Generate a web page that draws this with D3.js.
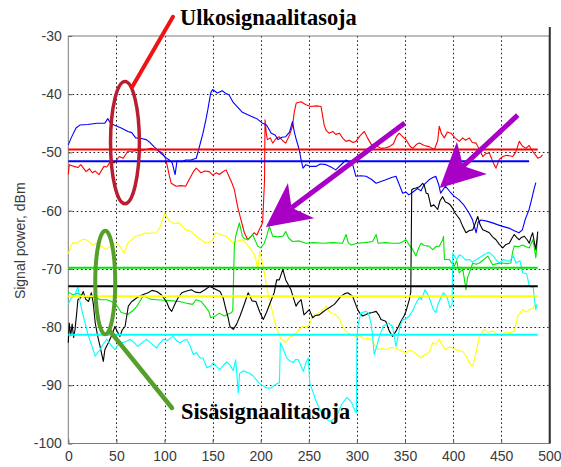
<!DOCTYPE html>
<html>
<head>
<meta charset="utf-8">
<script src="https://cdn.jsdelivr.net/npm/d3@7"></script>
<style>
  html, body { margin: 0; padding: 0; background: #fff; }
  svg { display: block; }
</style>
</head>
<body>
<svg id="chart" width="561" height="467"></svg>
<script>
// Sample index (x) and measured level in dBm for each trace
const blueTrace = [[0,-48.7],[3,-47.5],[8,-45.8],[12,-45.3],[20,-45.2],[30,-45],[38,-45],[41,-44.2],[44,-45],[47.5,-45.3],[55,-45.8],[62,-46.4],[66,-46.6],[70,-47.5],[76,-47.6],[81,-47.8],[85,-48.3],[89,-49],[93,-49.6],[96,-50.1],[101.5,-50.9],[105,-51.3],[108,-51.8],[111,-53.8],[113,-51.5],[118,-51.6],[122,-51.3],[127.5,-51.3],[133,-51],[136,-49.2],[140,-46.7],[143,-44.4],[145,-42.7],[148,-39.8],[150,-39.2],[155,-39.8],[160,-39.4],[164,-39.9],[167,-40.1],[171,-41.3],[176,-42.2],[181,-43.1],[186,-43.5],[190,-43.8],[196,-44.2],[202,-45],[206,-45.3],[211,-46.7],[215,-47],[218,-47.8],[222,-47.4],[226,-47.3],[230,-46.5],[233,-44.7],[235,-46.5],[237,-47.8],[240,-49.5],[242,-51.3],[244,-52.7],[247,-52.1],[252,-52.4],[257.5,-52.4],[262,-52],[268,-52.1],[273,-52.5],[278,-53],[283,-52.2],[288.7,-51.3],[292,-51.7],[295.6,-52.1],[299,-54.1],[304,-54],[309.5,-54.1],[315,-54.6],[320,-55.3],[325,-55],[330,-54.7],[336,-54.3],[340.6,-54.1],[344,-55.5],[347.6,-57],[351,-56.8],[354,-57.3],[359,-56.7],[363,-56.2],[366.6,-56.6],[370,-55.5],[375,-54.7],[378,-54.4],[382,-54.1],[385,-55.5],[387,-57],[392,-55.8],[397,-56.8],[401,-57.5],[406,-58.1],[411,-59],[416.5,-60.4],[420,-61.5],[424,-63.8],[426,-62],[429,-61.6],[435,-61.8],[441,-62.1],[446,-62.4],[451.6,-62.7],[458,-63],[463,-63.4],[468.5,-63.8],[472,-63.3],[475,-61.5],[479,-59.8],[482,-57.8],[484,-56.4],[486,-55.2]];

const redTrace = [[0,-53.8],[1,-52.1],[6,-52.4],[10,-52.6],[13,-52.1],[18.5,-53.3],[22,-52.8],[25,-53.5],[28,-53.2],[32,-53.8],[37,-52.4],[40,-52.5],[44,-51.5],[48,-51.8],[53,-50.7],[57,-51],[62,-49.8],[67,-49.8],[72,-49.6],[76,-49.7],[81,-49.5],[86,-49.3],[91,-49.5],[98,-50.1],[101,-51],[103,-52.4],[105,-54],[107,-55.3],[112,-55.8],[117,-55.7],[122,-55.8],[125.5,-54.7],[127.5,-54.1],[130,-53.3],[133,-52.7],[138,-53.5],[142,-53.2],[146.6,-53.3],[150,-53.9],[154,-53.5],[157,-53.8],[160,-53.4],[164,-53],[167,-54.1],[170,-55.2],[172.6,-56.4],[176,-59.3],[179.5,-61.6],[183,-63.8],[186.5,-65],[190,-64.4],[193,-63.8],[196,-64.2],[198.5,-63.3],[202,-62.1],[204,-54.7],[204.5,-44.4],[206,-47],[207,-47.8],[210,-47.5],[212.5,-48.4],[216,-47.6],[219,-47.3],[223,-48],[226,-48.4],[230,-47],[233,-45.5],[235,-43],[237,-41.5],[242,-41.3],[247,-41.8],[252,-42.1],[258,-42],[262.7,-42.1],[266,-45.3],[268,-46.2],[271,-46.7],[275,-46.4],[278,-46.9],[282,-46.7],[285,-47.5],[288.7,-48.1],[292,-47.9],[296,-48.3],[299,-48.1],[303,-47.2],[307.7,-46.4],[311,-47.5],[316.4,-49],[320,-48.8],[325,-49.3],[330,-49.2],[333.7,-49],[338,-48.5],[341,-47.3],[344,-46.7],[347,-47.2],[351,-47.8],[355,-48.9],[358,-49.3],[362,-48.6],[365,-48.4],[370,-48.8],[375,-49],[380.5,-49.5],[384,-48],[385.6,-45.5],[388,-46.8],[390.9,-47.5],[394,-46.5],[397.8,-46.7],[402,-47.5],[406.4,-48.1],[410,-47.5],[413,-47.9],[416.8,-47.5],[420,-48.3],[423.8,-48.4],[427,-49.4],[430.8,-50.7],[434,-50.2],[437.7,-50.1],[441,-51.5],[444.6,-52.7],[448,-51.2],[451.6,-50.7],[456,-50.5],[462,-50.7],[465,-50],[468.8,-48.1],[472,-48.9],[475.8,-49.3],[479,-48.8],[482.7,-49.8],[486,-50.5],[488,-51],[491,-50.8],[493,-50.4]];

const yellowTrace = [[0,-67.4],[3,-66],[5,-65.5],[8,-65.6],[12,-65.2],[15.6,-64.9],[18.4,-65],[22,-65.4],[25,-65.9],[29,-65.6],[32,-65.9],[36,-66.3],[39,-66.7],[43,-66.2],[46,-65.8],[49.6,-65.6],[53,-66],[55,-66.5],[58,-67.3],[61.7,-65.6],[66,-65],[70,-64.4],[75,-64.2],[80.8,-63.8],[85,-63.9],[91,-63.8],[95,-63],[98,-61.5],[100,-60.4],[103,-61.2],[105,-61.8],[110,-62.2],[115,-62.1],[118,-62.6],[122,-63.3],[127.5,-63.6],[133,-64.4],[138,-65],[143,-65.6],[147,-65.4],[150,-65],[153.5,-63.8],[158,-64.1],[164,-64.4],[168,-65],[171,-65.6],[176,-65.2],[181,-65],[186,-65.8],[190,-66.7],[193,-67.5],[195,-68.4],[197,-70.1],[199,-67],[202,-69],[205.5,-72.4],[208,-74.5],[210.7,-76.4],[213,-78],[216,-79.9],[219,-81.3],[221,-82.1],[224,-82.3],[226,-82.7],[229.7,-81.8],[233,-81.5],[236.7,-81],[240,-80.4],[243.6,-79.9],[247,-80],[250.5,-79.6],[254,-78.1],[258,-77.8],[262.7,-77.3],[266,-76.8],[268,-76.4],[271,-77.2],[273,-77.6],[278,-77.9],[282,-78.6],[285,-79.9],[288,-80.6],[290.4,-81],[295,-81.3],[299,-81.6],[303,-81.4],[307.7,-82.1],[311,-81.9],[314.6,-82.1],[318,-83],[321.6,-83.9],[326,-83.7],[330,-83.9],[335,-83.5],[340.6,-83.6],[346,-84.1],[351,-84.4],[355,-84],[358,-84.2],[362,-84.7],[366.6,-85.3],[370,-84.8],[375,-84.4],[378.8,-82.7],[382,-83],[385.6,-82.1],[389,-83.2],[392.6,-83.9],[396,-83.4],[399.6,-83.6],[405,-84],[410,-84.2],[413,-84.8],[416.8,-86.1],[420.4,-86.7],[423.8,-84.4],[427.3,-81.6],[432.4,-80.4],[436,-80.9],[441,-80.7],[446,-81.2],[451.6,-81.3],[455,-80.8],[458.4,-81],[463.6,-80.7],[467.2,-78.1],[472.4,-77],[476,-77.4],[479.2,-77],[483,-76.8],[486,-75.9]];

const greenTrace = [[0,-74],[5,-74.5],[10,-74.2],[16,-74.8],[22,-75],[28,-74.8],[33,-75.3],[40,-75.3],[45,-75.6],[50,-76.2],[55,-77.5],[62,-77.8],[67,-77.2],[71,-76.5],[78,-74.6],[85,-75.2],[92,-75.3],[100,-75.4],[108,-75.5],[116,-75.6],[123,-75.9],[129,-76.1],[133,-75.3],[138,-75.6],[143,-76.6],[146,-77.3],[148,-78.4],[152,-78.2],[157,-77.6],[162,-78.1],[166,-77.8],[169,-77.6],[171,-77.2],[172.6,-66.1],[174,-64.4],[177.8,-62.1],[181,-64.4],[183,-64.8],[186.5,-65],[189,-64.6],[191.7,-64.1],[194,-65],[197,-66.1],[200,-66.4],[203.7,-65.6],[206,-64.5],[209,-62.7],[212.5,-64.4],[218,-64.5],[223,-64.4],[226,-63.6],[229,-64.7],[233,-65.3],[240,-65.2],[247,-65.6],[255,-65.5],[265,-65.6],[275,-65.5],[285,-65.6],[288.7,-64.1],[291,-65.5],[294,-65.9],[300,-65.6],[308,-65.5],[316.4,-65.3],[320,-64.1],[322,-65.6],[330,-65.5],[337,-65.6],[344,-65.6],[348,-65.3],[351,-65],[354,-65.8],[358,-66.7],[361.4,-67.8],[364,-66.5],[366.6,-65.6],[370,-66],[375,-66.1],[378.8,-66.7],[382,-66.2],[385.6,-66.1],[389.2,-65],[390,-64.4],[391,-68.4],[396,-68.4],[401,-69.6],[403.7,-68.6],[406.4,-70.7],[410,-70.1],[411.5,-71.5],[413.4,-73.6],[415,-71.5],[416.8,-70.7],[420.4,-69],[424,-69.2],[427.3,-69],[432,-68.4],[436,-67.8],[441,-69.3],[446,-69.1],[451.6,-69],[456,-69.1],[460,-69],[462,-67],[463.6,-66.1],[468,-66.2],[472.4,-65.9],[476,-66.2],[479.2,-66.4],[482.7,-65],[484,-66],[486,-68.1],[488,-64.4]];

const blackTrace = [[0,-82.7],[1,-79.3],[2.5,-81.5],[4,-79.5],[5.5,-81.8],[7,-80.4],[8.5,-78],[10,-75.3],[12.5,-75],[15.6,-73.9],[18,-75.2],[21,-75.6],[24,-74.1],[26,-76],[28,-79.3],[30.5,-81.5],[33,-83.3],[36.4,-85.9],[38,-83.9],[41.6,-82.7],[45,-81.5],[48.5,-79.9],[51,-80.8],[53.7,-81.6],[56,-80.5],[59,-79.9],[62.4,-76.4],[66,-75.6],[71,-75],[75,-74.6],[78,-74.4],[83,-74.1],[87,-73.7],[92,-73.9],[97,-74.5],[102,-75.6],[105,-76.8],[107.5,-77.3],[111,-76],[114,-75],[118,-74.1],[123,-73.8],[128,-73.6],[132,-74],[137,-74.1],[142,-73.6],[147,-73],[152,-73.4],[157.7,-73.9],[161,-75],[163,-76.4],[166,-78.3],[168,-79.9],[171.5,-80.4],[175,-79.5],[178.5,-78.1],[182,-76.5],[187,-74.1],[191,-75.5],[195,-75.6],[199,-77.4],[202.7,-78.7],[206,-77.5],[209.7,-75.9],[214,-74.1],[216.6,-71.9],[219.3,-71.9],[223,-70.1],[226,-71.9],[228,-72.5],[231.5,-73.6],[234,-75],[236.7,-76.4],[239,-75.8],[242,-75.3],[245,-77.9],[250.5,-77],[254,-78.4],[257,-78],[261,-77.9],[264,-77.5],[268,-77],[272,-76.6],[276.5,-76.1],[280,-75.4],[283.5,-74.7],[287,-74.3],[290.4,-74.1],[293,-74.4],[295.6,-74.7],[298,-75.8],[300.8,-77],[303,-77.6],[306,-78.1],[309,-77.9],[313,-77.6],[316,-77.5],[320,-77.3],[323,-78],[325,-78.7],[330,-79],[333.7,-80.7],[337,-81.6],[340.6,-80.7],[343,-80],[345.8,-79],[349,-78.1],[351,-77.3],[354.5,-75.3],[356,-74],[357,-56.4],[359,-56.2],[361.4,-56.1],[365,-55.9],[368.4,-55.3],[370,-55.6],[372,-57],[374,-57.1],[377,-59.3],[380,-59],[384,-59.8],[386.4,-58.3],[389.2,-57.6],[392,-58.5],[394.4,-58.7],[397,-59],[399.6,-59.6],[402,-60.4],[404.8,-61],[407,-61.5],[410,-62.7],[413.4,-63.8],[417,-63.4],[420.4,-63.3],[423,-62.2],[425.6,-61],[428,-62.4],[430.8,-63.3],[434,-63.5],[437.7,-63.8],[441,-64.5],[444.6,-65],[448,-65.8],[451.6,-66.4],[455,-65.8],[458.4,-65.6],[461,-64.8],[463.6,-64.1],[466,-64.6],[468.8,-65],[471,-64.6],[474,-64.4],[477,-65],[479.2,-65.6],[481,-64.5],[482.7,-63.8],[484.5,-65.5],[486,-66.7],[488,-63.6]];

const cyanTrace = [[0,-76.1],[2,-75.3],[5,-74.7],[8,-74],[10,-73],[12,-75.5],[14,-77],[17,-79],[21,-81.6],[24,-83],[28,-85],[30,-84.5],[33,-83.9],[36,-83],[40,-82.1],[44,-83],[48.5,-83.9],[52,-83],[55.5,-82.7],[60,-82.5],[64,-82.1],[68,-82.6],[72,-83.3],[74.5,-83],[78,-82.5],[81.5,-82.1],[86,-82.8],[92,-83.6],[95,-82.8],[98.8,-82.1],[103,-82.3],[106,-81.9],[109,-81.6],[113,-82.4],[116,-82.7],[120,-82.3],[123,-82.1],[126,-83],[130,-84.7],[133,-84.4],[137,-85.3],[140,-85.3],[144,-87],[148,-86.7],[150.7,-86.1],[154,-86.8],[157.7,-87.3],[161,-86.6],[164.7,-86],[168,-86.5],[171.5,-87.5],[174,-85.6],[176.7,-91.3],[178,-88],[182,-87.5],[186,-87.8],[188,-87.9],[192.3,-88.4],[195,-89],[200,-89.9],[202.7,-90.1],[205.5,-90.4],[208,-90.5],[211.4,-90.4],[215,-89.9],[218.3,-89.6],[219.5,-89.6],[220.4,-82.7],[223,-83.6],[227,-85.3],[230,-85.8],[234,-86.1],[236,-85.6],[239,-85.6],[242,-86.7],[244.3,-87.6],[247,-86.1],[249.5,-85.3],[251,-89.6],[254.7,-91.3],[257,-92.5],[260,-93.6],[265,-95.3],[268,-95.8],[272,-96.2],[276,-95.8],[279,-95.3],[284,-93.3],[289.4,-92.1],[292,-92.5],[294.6,-93],[298,-94.4],[299.5,-94.7],[300,-82.1],[301,-79.9],[304,-77.6],[309.5,-77.3],[312,-77.6],[314.6,-79.3],[316,-81],[318,-84.7],[320.6,-83.3],[323.3,-81.6],[327.5,-79.8],[330,-79.6],[333,-79.3],[337,-79.9],[340.6,-83.3],[344.8,-79.9],[347.6,-78.7],[350,-78.7],[354.5,-78.1],[358.6,-77],[361.4,-75.9],[365.6,-74.7],[367,-75.3],[370.8,-73.6],[374,-74.5],[376,-75.3],[379.4,-77],[382,-77.5],[384.6,-75.9],[389.8,-74.1],[393.3,-74.7],[396.8,-76.7],[399,-76],[399.6,-67.3],[403.7,-68.4],[406.4,-67.6],[409,-67.8],[413,-68.5],[416.8,-68.4],[420,-68.8],[424.5,-68.4],[427.3,-68.1],[431,-67.7],[435,-67.3],[438,-67.2],[441.8,-67.8],[445,-68.5],[448,-69],[452.2,-68.4],[456,-68.6],[458.4,-68.7],[462.6,-67.8],[465.4,-69],[469.5,-68.6],[472.4,-70.7],[476.5,-70.8],[479.2,-73],[483.4,-73.2],[484.5,-75.3],[486,-77],[487,-76.1]];

// Average level of each trace, drawn as a horizontal reference line
const traceColors = ["#ff0000", "#0000ff", "#ffff00", "#00e600", "#000000", "#00ffff"];
const traceData   = [redTrace, blueTrace, yellowTrace, greenTrace, blackTrace, cyanTrace];
const meanLevels  = [-49.5, -51.5, -74.7, -69.8, -73.0, -81.3];
const meanEnds    = [488, 479, 488, 488, 488, 488];

// Axis ticks
const xTicks = [0, 50, 100, 150, 200, 250, 300, 350, 400, 450, 500];
const yTicks = [-100, -90, -80, -70, -60, -50, -40, -30];

const svg = d3.select("#chart");
const x = d3.scaleLinear().domain([0, 500]).range([68.3, 549.3]);
const y = d3.scaleLinear().domain([-100, -30]).range([443.5, 36]);

const axisFont = "'Liberation Sans', Arial, sans-serif";

// Dotted grid
const grid = svg.append("g").attr("stroke", "#222").attr("stroke-width", 1)
  .attr("stroke-dasharray", "1.6,2.6");
grid.selectAll("line.gx").data(xTicks.slice(1, -1)).join("line")
  .attr("x1", d => Math.round(x(d)) + 0.5).attr("x2", d => Math.round(x(d)) + 0.5)
  .attr("y1", y(-30)).attr("y2", y(-100));
grid.selectAll("line.gy").data(yTicks.slice(1, -1)).join("line")
  .attr("y1", d => Math.round(y(d)) + 0.5).attr("y2", d => Math.round(y(d)) + 0.5)
  .attr("x1", x(0)).attr("x2", x(500));

// Axes
const xAxis = d3.axisBottom(x).tickValues(xTicks).tickFormat(d3.format("d"))
  .tickSizeInner(-4).tickSizeOuter(0).tickPadding(8);
const yAxis = d3.axisLeft(y).tickValues(yTicks).tickFormat(d => d3.format("d")(d).replace("\u2212", "-"))
  .tickSizeInner(-4).tickSizeOuter(0).tickPadding(6.5);

const gx = svg.append("g").attr("transform", `translate(0,${y(-100)})`).call(xAxis);
const gy = svg.append("g").attr("transform", `translate(${x(0)},0)`).call(yAxis);
[gx, gy].forEach(g => {
  g.select(".domain").remove();
  g.selectAll(".tick line").attr("stroke", "#555");
  g.selectAll(".tick text").attr("fill", "#3a3a3a")
    .style("font-family", axisFont).style("font-size", "14px");
});

// Frame around the plotting area
svg.append("rect")
  .attr("x", x(0)).attr("y", y(-30))
  .attr("width", x(500) - x(0)).attr("height", y(-100) - y(-30))
  .attr("fill", "none").attr("stroke", "#7a7a7a").attr("stroke-width", 1);
svg.append("line")
  .attr("x1", x(500) + 0.5).attr("x2", x(500) + 0.5)
  .attr("y1", y(-30) - 9).attr("y2", y(-100))
  .attr("stroke", "#333").attr("stroke-width", 2);

// Axis title
svg.append("text")
  .attr("transform", `translate(25,${(y(-30) + y(-100)) / 2 + 1}) rotate(-90)`)
  .attr("text-anchor", "middle")
  .attr("fill", "#3a3a3a")
  .style("font-family", axisFont).style("font-size", "14px")
  .text("Signal power, dBm");

// Measured traces
const line = d3.line().x(d => x(d[0])).y(d => y(d[1]));
const traces = svg.append("g").attr("fill", "none").attr("stroke-width", 1.1)
  .attr("stroke-linejoin", "round");
traceData.forEach((data, i) => {
  traces.append("path").datum(data).attr("d", line).attr("stroke", traceColors[i]);
});

// Mean levels
const means = svg.append("g").attr("stroke-width", 2);
meanLevels.forEach((m, i) => {
  means.append("line")
    .attr("x1", x(0)).attr("x2", x(meanEnds[i]))
    .attr("y1", y(m)).attr("y2", y(m))
    .attr("stroke", traceColors[i]);
});

// Annotations: outdoor levels (red) and indoor levels (green)
const outdoorEllipse = { cx: 58.9, cy: -48.3, rx: 15, ry: 10.5 };
const indoorEllipse  = { cx: 38.4, cy: -72.35, rx: 10.4, ry: 8.9 };
const outdoorPointer = [[66.2, -38.8], [108.8, -26.7]];
const indoorPointer  = [[43.3, -80.7], [107.8, -93.9]];
const outdoorLabel   = { x: 116.2, y: -28.1, text: "Ulkosignaalitasoja" };
const indoorLabel    = { x: 117.1, y: -95.8, text: "Sisäsignaalitasoja" };
// Arrows pointing at the drops where traces cross
const arrows = [
  [[349.8, -44.95], [205.4, -62.8]],
  [[467.2, -43.6], [386.1, -56.1]]
];

const ann = svg.append("g");

function drawEllipse(e, color, width) {
  ann.append("ellipse")
    .attr("cx", x(e.cx)).attr("cy", y(e.cy))
    .attr("rx", x(e.cx + e.rx) - x(e.cx)).attr("ry", y(e.cy - e.ry) - y(e.cy))
    .attr("fill", "none").attr("stroke", color).attr("stroke-width", width);
}
function drawPointer(p, color, width) {
  ann.append("line")
    .attr("x1", x(p[0][0])).attr("y1", y(p[0][1]))
    .attr("x2", x(p[1][0])).attr("y2", y(p[1][1]))
    .attr("stroke", color).attr("stroke-width", width).attr("stroke-linecap", "round");
}

drawEllipse(outdoorEllipse, "#b81e30", 3.5);
drawPointer(outdoorPointer, "#ee1414", 4);
drawEllipse(indoorEllipse, "#55a02a", 4);
drawPointer(indoorPointer, "#55a02a", 4.5);

const labelFont = "'Liberation Serif', 'Times New Roman', serif";
[outdoorLabel, indoorLabel].forEach(l => {
  ann.append("text")
    .attr("x", x(l.x)).attr("y", y(l.y))
    .attr("fill", "#000")
    .style("font-family", labelFont).style("font-weight", "bold").style("font-size", "22.4px")
    .text(l.text);
});

const arrowColor = "#a800c4";
arrows.forEach(a => {
  const x0 = x(a[0][0]), y0 = y(a[0][1]);
  const x1 = x(a[1][0]), y1 = y(a[1][1]);
  const len = Math.hypot(x1 - x0, y1 - y0);
  const ux = (x1 - x0) / len, uy = (y1 - y0) / len;
  const nx = -uy, ny = ux;
  const headLen = 44, halfW = 22, notch = 12;
  const bx = x1 - headLen * ux, by = y1 - headLen * uy;
  const mx = x1 - (headLen - notch) * ux, my = y1 - (headLen - notch) * uy;
  ann.append("line")
    .attr("x1", x0).attr("y1", y0).attr("x2", mx).attr("y2", my)
    .attr("stroke", arrowColor).attr("stroke-width", 5);
  ann.append("path")
    .attr("d", `M${x1},${y1}L${bx + halfW * nx},${by + halfW * ny}L${mx},${my}L${bx - halfW * nx},${by - halfW * ny}Z`)
    .attr("fill", arrowColor);
});
</script>
</body>
</html>
